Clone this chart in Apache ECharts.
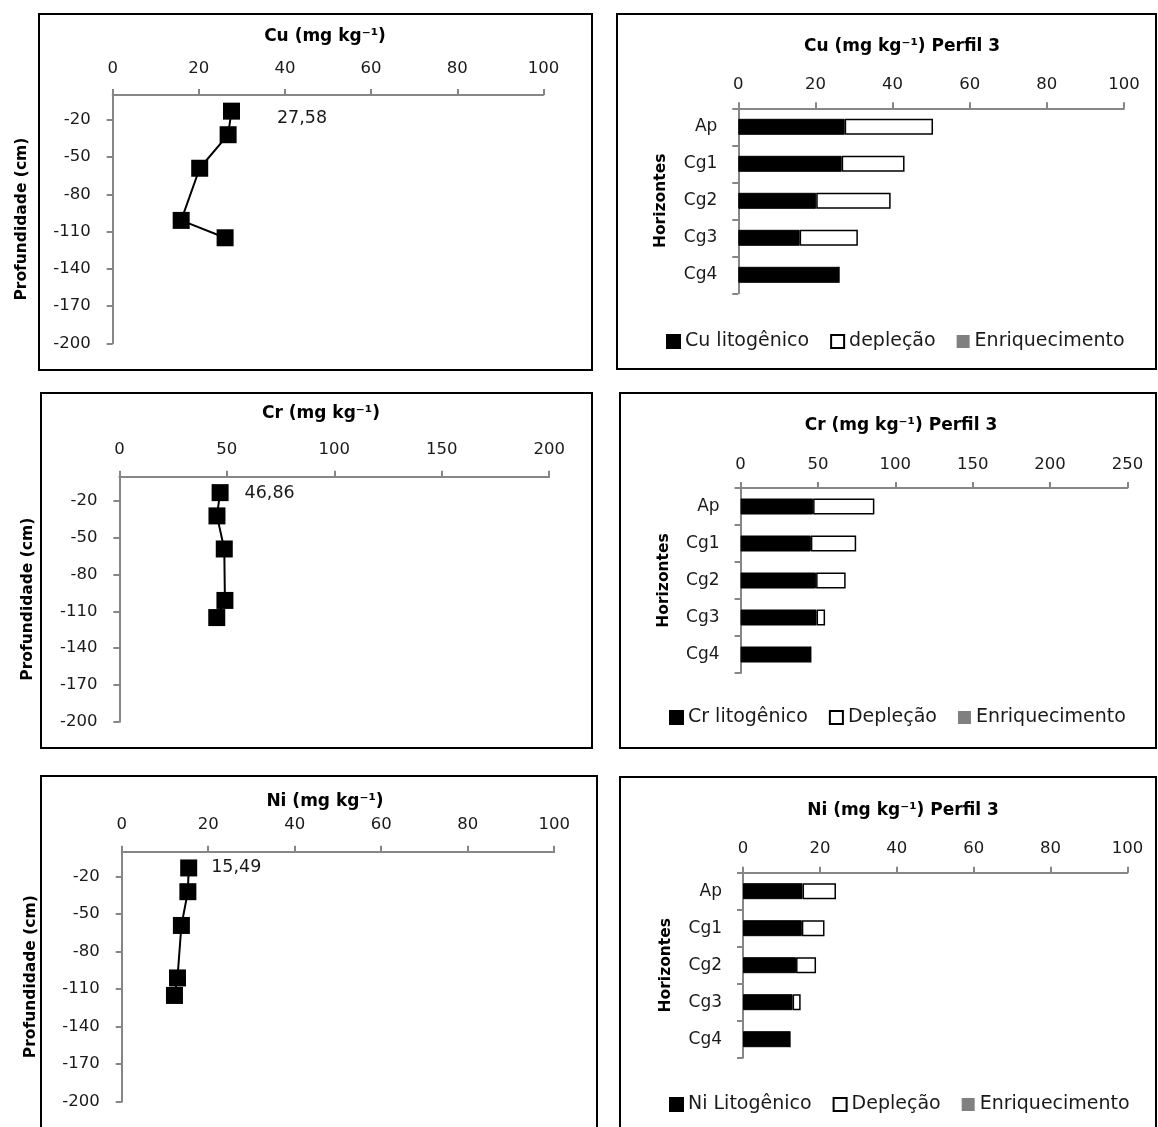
<!DOCTYPE html>
<html><head><meta charset="utf-8">
<script src="https://cdn.jsdelivr.net/npm/echarts@6/dist/echarts.min.js"></script>
<style>html,body{margin:0;padding:0;background:#fff}#c{width:1158px;height:1127px}</style>
</head><body><div id="c"></div>
<script>
// ---- data ----
const horizons = ['Ap', 'Cg1', 'Cg2', 'Cg3', 'Cg4'];
const depths = [-13, -32, -59, -101, -115];
const depthTicks = [-20, -50, -80, -110, -140, -170, -200];
const cuLito = [27.58, 26.8, 20.2, 15.9, 26.1];
const cuDepl = [22.9, 16.3, 19.3, 15.1, 0];
const crLito = [46.86, 45.4, 48.8, 49.1, 45.3];
const crDepl = [39.6, 29.3, 19.1, 5.5, 0];
const niLito = [15.49, 15.3, 13.8, 12.9, 12.2];
const niDepl = [8.7, 5.9, 5.2, 2.1, 0];
const enrich = [0, 0, 0, 0, 0];

const FONT = '"DejaVu Sans", sans-serif';
const AX = '#868686';
const TXT = '#1a1a1a';
const TICK_FS = 16.5;

const chart = echarts.init(document.getElementById('c'));

const grids = [], xAxes = [], yAxes = [], series = [], titles = [], legends = [], graphics = [];

function border(x, y, w, h) {
  graphics.push({type: 'rect', shape: {x: x, y: y, width: w, height: h},
    style: {fill: 'none', stroke: '#000', lineWidth: 2}, silent: true});
}
function title(text, cx, cy) {
  titles.push({text: text, left: cx, top: cy - 10, textAlign: 'center', padding: 0,
    textStyle: {fontFamily: FONT, fontSize: 17, fontWeight: 'bold', color: '#000'}});
}

function linePanel(g, xMax, xInt, vals, ttl, tpos, lab) {
  const i = grids.length;
  grids.push(g);
  title(ttl, tpos[0], tpos[1]);
  xAxes.push({gridIndex: i, type: 'value', position: 'top', min: 0, max: xMax, interval: xInt,
    axisLine: {show: true, lineStyle: {color: AX, width: 2}},
    axisTick: {show: true, length: 6, lineStyle: {color: AX, width: 2}},
    axisLabel: {margin: 18, fontFamily: FONT, fontSize: TICK_FS, color: TXT},
    splitLine: {show: false}});
  yAxes.push({gridIndex: i, type: 'value', min: -200, max: 0,
    name: 'Profundidade (cm)', nameLocation: 'middle', nameRotate: 90, nameGap: 83,
    nameTextStyle: {fontFamily: FONT, fontSize: 15.5, fontWeight: 'bold', color: '#000'},
    axisLine: {show: true, onZero: false, lineStyle: {color: AX, width: 2}},
    axisTick: {show: true, length: 6, customValues: depthTicks, lineStyle: {color: AX, width: 2}},
    axisLabel: {margin: 22, customValues: depthTicks, fontFamily: FONT, fontSize: TICK_FS, color: TXT},
    splitLine: {show: false}});
  series.push({type: 'line', xAxisIndex: i, yAxisIndex: i,
    data: vals.map((v, k) => ({value: [v, depths[k]], label: {show: k === 0}})),
    symbol: 'rect', symbolSize: 17, itemStyle: {color: '#000'},
    lineStyle: {color: '#000', width: 2},
    label: {position: 'right', distance: lab[0], offset: [0, lab[1]],
      fontFamily: FONT, fontSize: 17.5, color: TXT,
      formatter: p => p.value[0].toFixed(2).replace('.', ',')},
    animation: false});
}

function barPanel(g, xMax, xInt, lito, depl, names, ttl, tpos, lpos) {
  const i = grids.length;
  grids.push(g);
  title(ttl, tpos[0], tpos[1]);
  xAxes.push({gridIndex: i, type: 'value', position: 'top', min: 0, max: xMax, interval: xInt,
    axisLine: {show: true, lineStyle: {color: AX, width: 2}},
    axisTick: {show: true, length: 6, lineStyle: {color: AX, width: 2}},
    axisLabel: {margin: 15, fontFamily: FONT, fontSize: TICK_FS, color: TXT},
    splitLine: {show: false}});
  yAxes.push({gridIndex: i, type: 'category', data: horizons, inverse: true,
    name: 'Horizontes', nameLocation: 'middle', nameRotate: 90, nameGap: 69,
    nameTextStyle: {fontFamily: FONT, fontSize: 15.5, fontWeight: 'bold', color: '#000'},
    axisLine: {show: true, lineStyle: {color: AX, width: 2}},
    axisTick: {show: true, length: 6, lineStyle: {color: AX, width: 2}},
    axisLabel: {margin: 21, fontFamily: FONT, fontSize: 17, color: TXT},
    splitLine: {show: false}});
  const stack = 's' + i;
  series.push({type: 'bar', name: names[0], xAxisIndex: i, yAxisIndex: i, stack: stack, data: lito,
    barWidth: 16, itemStyle: {color: '#000', borderColor: '#000', borderWidth: 1}, animation: false});
  series.push({type: 'bar', name: names[1], xAxisIndex: i, yAxisIndex: i, stack: stack, data: depl,
    barWidth: 16, itemStyle: {color: '#fff', borderColor: '#000', borderWidth: 1.5}, animation: false});
  series.push({type: 'bar', name: names[2], xAxisIndex: i, yAxisIndex: i, stack: stack, data: enrich,
    barWidth: 16, itemStyle: {color: '#808080', borderWidth: 0}, animation: false});
  legends.push({data: names, left: lpos[0], top: lpos[1] - 7, padding: 0, itemGap: 21,
    itemWidth: 13, itemHeight: 13, icon: 'rect', selectedMode: false,
    textStyle: {fontFamily: FONT, fontSize: 19, color: TXT}});
}

border(39, 14, 553, 356);
border(617, 14, 539, 355);
border(41, 393, 551, 355);
border(620, 393, 536, 355);
border(41, 776, 556, 360);
border(620, 777, 536, 360);

linePanel({left: 112.7, top: 95, width: 430.7, height: 248.3}, 100, 20, cuLito,
  'Cu (mg kg⁻¹)', [325, 38], [37, 7]);
barPanel({left: 738.3, top: 108.3, width: 385.7, height: 185}, 100, 20, cuLito, cuDepl,
  ['Cu litogênico', 'depleção', 'Enriquecimento'], 'Cu (mg kg⁻¹) Perfil 3', [902, 48], [666, 339]);
linePanel({left: 119.4, top: 476.7, width: 429.8, height: 245}, 200, 50, crLito,
  'Cr (mg kg⁻¹)', [321, 415], [16, 1]);
barPanel({left: 740.6, top: 488, width: 386.8, height: 185}, 250, 50, crLito, crDepl,
  ['Cr litogênico', 'Depleção', 'Enriquecimento'], 'Cr (mg kg⁻¹) Perfil 3', [901, 427], [669, 715]);
linePanel({left: 121.7, top: 851.7, width: 432.5, height: 250}, 100, 20, niLito,
  'Ni (mg kg⁻¹)', [325, 803], [14, 0]);
barPanel({left: 743, top: 872.7, width: 384.4, height: 185}, 100, 20, niLito, niDepl,
  ['Ni Litogênico', 'Depleção', 'Enriquecimento'], 'Ni (mg kg⁻¹) Perfil 3', [903, 812], [669, 1102]);

chart.setOption({
  backgroundColor: '#fff',
  animation: false,
  title: titles,
  legend: legends,
  grid: grids,
  xAxis: xAxes,
  yAxis: yAxes,
  series: series,
  graphic: graphics
});
</script></body></html>
